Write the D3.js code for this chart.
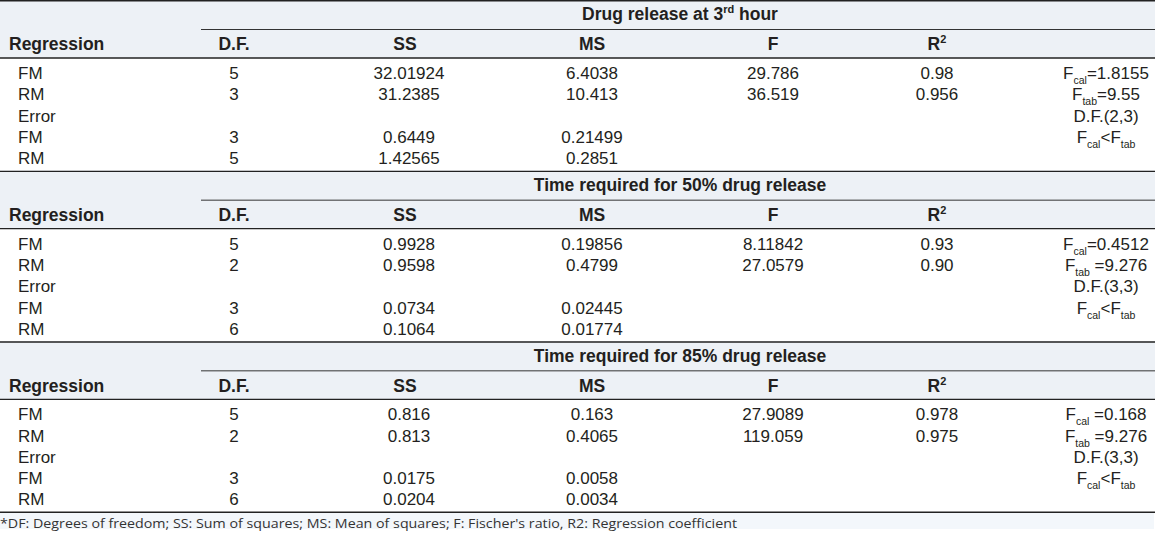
<!DOCTYPE html>
<html><head><meta charset="utf-8">
<script src="https://cdn.jsdelivr.net/npm/d3@7"></script>
<style>
body{margin:0;background:#fff}
svg{display:block}
text{font-family:"Liberation Sans",Arial,sans-serif;fill:#231f20}
text.foot{font-family:"Open Sans",sans-serif;fill:#333}
</style>
</head><body><svg id="c" width="1155" height="537"></svg>
<script>
// ---------- data ----------
const sectionTitles = [
  ["Drug release at 3", "rd", " hour"],
  ["Time required for 50% drug release"],
  ["Time required for 85% drug release"]
];
const headers = ["Regression", "D.F.", "SS", "MS", "F", "R2"];
const rowLabels = ["FM", "RM", "Error", "FM", "RM"];
const dfValues = [["5","3","","3","5"], ["5","2","","3","6"], ["5","2","","3","6"]];
const ssValues = [["32.01924","31.2385","","0.6449","1.42565"], ["0.9928","0.9598","","0.0734","0.1064"], ["0.816","0.813","","0.0175","0.0204"]];
const msValues = [["6.4038","10.413","","0.21499","0.2851"], ["0.19856","0.4799","","0.02445","0.01774"], ["0.163","0.4065","","0.0058","0.0034"]];
const fValues  = [["29.786","36.519","","",""], ["8.11842","27.0579","","",""], ["27.9089","119.059","","",""]];
const r2Values = [["0.98","0.956","","",""], ["0.93","0.90","","",""], ["0.978","0.975","","",""]];
// note parts alternate: normal, subscript, normal, subscript
const notes = [
  [["F","cal","=1.8155"], ["F","tab","=9.55"], ["D.F.(2,3)"], ["F","cal","<F","tab"]],
  [["F","cal","=0.4512"], ["F","tab"," =9.276"], ["D.F.(3,3)"], ["F","cal","<F","tab"]],
  [["F","cal"," =0.168"], ["F","tab"," =9.276"], ["D.F.(3,3)"], ["F","cal","<F","tab"]]
];
const footnote = "*DF: Degrees of freedom; SS: Sum of squares; MS: Mean of squares; F: Fischer's ratio, R2: Regression coefficient";

// ---------- layout ----------
const W = 1155;
const svg = d3.select("#c");
const secY = d3.scaleBand().domain(d3.range(sectionTitles.length)).range([0, 512]);
const rowY = d3.scalePoint().domain(d3.range(rowLabels.length)).range([73, 158]);
const colX = d3.scaleOrdinal().domain(["D.F.","SS","MS","F","R2","Note"]).range([234, 409, 592, 773, 937, 1106]);
const FS = 17;

const valueCols = [["D.F.", dfValues], ["SS", ssValues], ["MS", msValues], ["F", fValues], ["R2", r2Values]];

sectionTitles.forEach((title, s) => {
  const g = svg.append("g").attr("transform", `translate(0,${secY(s)})`);
  const h = secY.bandwidth();
  g.append("rect").attr("x", 0).attr("y", 0).attr("width", W).attr("height", 58).attr("fill", "#edf1f6");
  g.append("rect").attr("x", 0).attr("y", 58).attr("width", W).attr("height", h - 58).attr("fill", "#ffffff");
  g.append("line").attr("x1", 0).attr("x2", W).attr("y1", 0.7).attr("y2", 0.7).attr("stroke", "#222").attr("stroke-width", 1.4);
  g.append("line").attr("x1", 201).attr("x2", W).attr("y1", 29.5).attr("y2", 29.5).attr("stroke", "#333").attr("stroke-width", 1);
  g.append("line").attr("x1", 0).attr("x2", W).attr("y1", 58).attr("y2", 58).attr("stroke", "#222").attr("stroke-width", 1.4);

  // title
  const t = g.append("text").attr("x", 680).attr("y", 14).attr("dy", "0.36em")
    .attr("text-anchor", "middle").attr("font-weight", "bold").attr("font-size", FS + 0.5);
  t.append("tspan").text(title[0]);
  if (title[1]) {
    t.append("tspan").attr("font-size", 11).attr("dy", -7).text(title[1]);
    t.append("tspan").attr("dy", 7).text(title[2]);
  }

  // header row
  g.append("text").attr("x", 9).attr("y", 44).attr("dy", "0.36em")
    .attr("font-weight", "bold").attr("font-size", FS + 0.5).text(headers[0]);
  headers.slice(1).forEach(hd => {
    const ht = g.append("text").attr("x", hd === "SS" ? 405 : colX(hd)).attr("y", 44).attr("dy", "0.36em")
      .attr("text-anchor", "middle").attr("font-weight", "bold").attr("font-size", FS + 0.5);
    if (hd === "R2") {
      ht.append("tspan").text("R");
      ht.append("tspan").attr("font-size", 11).attr("dy", -7).text("2");
    } else ht.text(hd);
  });

  // row labels
  g.selectAll("text.lab").data(rowLabels).join("text").attr("class", "lab")
    .attr("x", 18).attr("y", (d, i) => rowY(i)).attr("dy", "0.36em")
    .attr("font-size", FS).text(d => d);

  // values
  valueCols.forEach(([key, arr]) => {
    g.selectAll(`text.v${key.replace(/\W/g, "")}`).data(arr[s]).join("text")
      .attr("class", `v${key.replace(/\W/g, "")}`)
      .attr("x", colX(key)).attr("y", (d, i) => rowY(i)).attr("dy", "0.36em")
      .attr("text-anchor", "middle").attr("font-size", FS).text(d => d);
  });

  // notes
  notes[s].forEach((parts, i) => {
    const nt = g.append("text").attr("x", colX("Note")).attr("y", rowY(i)).attr("dy", "0.36em")
      .attr("text-anchor", "middle").attr("font-size", FS);
    let shifted = false;
    parts.forEach((p, k) => {
      const sp = nt.append("tspan").text(p);
      if (k % 2 === 1) { sp.attr("font-size", 10.5).attr("dy", 5); shifted = true; }
      else if (shifted) { sp.attr("dy", -5); shifted = false; }
    });
  });
});

// bottom rule and footnote
svg.append("rect").attr("x", 0).attr("y", 513).attr("width", W - 1).attr("height", 16).attr("fill", "#f3f7fb");
svg.append("line").attr("x1", 0).attr("x2", W).attr("y1", 512.3).attr("y2", 512.3).attr("stroke", "#222").attr("stroke-width", 1.4);
svg.append("text").attr("class", "foot").attr("x", 0).attr("y", 528)
  .attr("font-size", 13).attr("textLength", 737).attr("lengthAdjust", "spacingAndGlyphs")
  .text(footnote);
</script>
</body></html>
